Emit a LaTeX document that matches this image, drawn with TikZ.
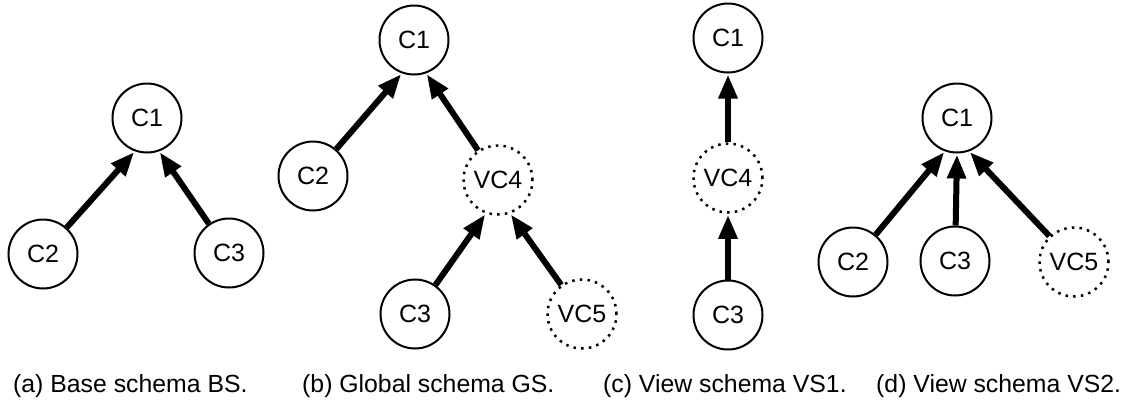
\documentclass[tikz,border=0pt]{standalone}
\usepackage{fontspec}
\setmainfont{Liberation Sans}
\usetikzlibrary{arrows.meta}
\tikzset{
  cls/.style={circle, draw, line width=2pt, minimum size=69pt, inner sep=0pt, font=\fontsize{25}{28}\selectfont},
  vcls/.style={cls, line width=2.5pt, dash pattern=on 2.5pt off 5.2pt},
  isa/.style={line width=6pt, -{Triangle[length=24pt,width=18pt]}, shorten >=1pt},
  captext/.style={anchor=base west, inner sep=0pt, font=\fontsize{24.8}{28}\selectfont}
}
\begin{document}
\begin{tikzpicture}[x=1pt,y=-1pt]
\useasboundingbox (0,0) rectangle (1125,400);
% (a)
\node[cls] (a1) at (147,118) {C1};
\node[cls] (a2) at (43,254) {C2};
\node[cls] (a3) at (229,253) {C3};
\draw[isa] (a2) -- (a1.250);
\draw[isa] (a3) -- (a1.290);
% (b)
\node[cls] (b1) at (414,40) {C1};
\node[cls] (b2) at (313,176) {C2};
\node[vcls] (b4) at (498,180) {VC4};
\node[cls] (b3) at (415,314) {C3};
\node[vcls] (b5) at (582,314) {VC5};
\draw[isa] (b2) -- (b1.250);
\draw[isa] (b4) -- (b1.290);
\draw[isa] (b3) -- (b4.250);
\draw[isa] (b5) -- (b4.290);
% (c)
\node[cls] (c1) at (728,38) {C1};
\node[vcls] (c4) at (728,178) {VC4};
\node[cls] (c3) at (728,315) {C3};
\draw[isa] (c4) -- (c1);
\draw[isa] (c3) -- (c4);
% (d)
\node[cls] (d1) at (957,118) {C1};
\node[cls] (d2) at (853,262) {C2};
\node[cls] (d3) at (955,261) {C3};
\node[vcls] (d5) at (1074,262) {VC5};
\draw[isa] (d2) -- (d1.250);
\draw[isa] (d3) -- (d1.270);
\draw[isa] (d5) -- (d1.290);
% captions
\node[captext] (capa) at (13,392) {(a) Base schema BS.};
\node[captext] (capb) at (302,392) {(b) Global schema GS.};
\node[captext] (capc) at (603,392) {(c) View schema VS1.};
\node[captext] (capd) at (876,392) {(d) View schema VS2.};
\end{tikzpicture}
\end{document}
